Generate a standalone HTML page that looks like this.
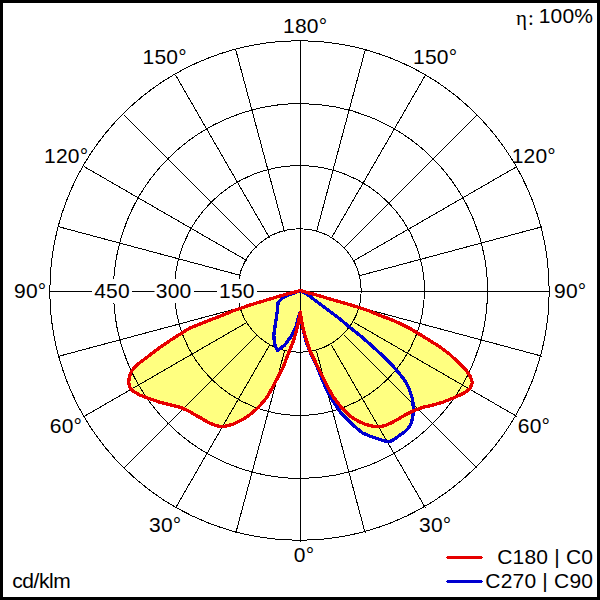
<!DOCTYPE html>
<html><head><meta charset="utf-8"><title>Polar LDC</title>
<style>
html,body{margin:0;padding:0;background:#fff;}
body{width:600px;height:600px;overflow:hidden;font-family:"Liberation Sans",sans-serif;}
svg{display:block;}
</style></head><body>
<svg width="600" height="600" viewBox="0 0 600 600">
<rect x="0" y="0" width="600" height="600" fill="#fff"/>
<g fill="#FFFF80" stroke="none">
<polygon points="300.2,290.6 316.7,295.0 333.3,300.0 350.0,304.7 366.7,310.0 383.3,316.7 390.0,319.2 400.0,323.5 410.0,328.5 420.0,334.5 430.0,340.7 440.0,347.0 450.0,354.5 460.0,364.0 466.7,370.8 470.5,377.0 472.3,382.5 470.0,388.7 463.3,393.5 454.0,397.7 443.3,402.0 433.3,405.0 423.3,407.2 413.3,410.8 405.0,415.0 400.0,418.0 392.0,422.6 385.0,425.6 379.0,426.8 375.0,426.6 366.7,424.8 358.3,421.3 350.0,416.0 341.7,407.8 333.3,397.0 326.7,385.0 320.0,371.7 314.5,360.0 310.0,351.2 306.3,340.0 302.5,326.3 300.3,312.0 297.5,326.3 293.8,340.0 288.8,352.5 285.7,360.5 283.3,366.7 278.3,376.5 273.0,386.5 267.0,397.3 258.5,407.3 251.7,413.3 243.3,419.2 233.3,424.2 223.3,426.7 216.7,425.8 208.3,422.5 200.0,417.5 196.7,415.8 188.3,410.8 180.0,407.2 170.0,404.7 160.0,402.3 150.0,398.8 140.0,395.2 132.0,390.3 129.6,387.0 128.7,382.5 129.3,376.7 131.8,370.8 136.7,365.0 142.5,360.7 150.0,354.9 160.0,347.4 170.0,340.5 180.0,334.2 190.0,328.0 200.0,324.0 210.0,320.0 216.7,317.5 233.3,310.8 250.0,305.0 266.7,300.0 283.3,295.0"/>
<polygon points="300.2,290.6 304.0,292.4 307.5,294.5 313.0,298.7 320.0,304.0 330.0,311.5 340.0,319.0 350.0,327.5 360.0,335.5 366.7,341.3 375.0,348.7 384.0,357.0 391.0,364.0 399.0,373.0 405.5,381.5 409.6,390.0 412.5,399.0 413.6,410.0 412.5,418.5 410.8,424.0 408.2,428.2 404.5,432.0 400.0,435.0 394.5,439.2 390.5,441.3 386.0,441.2 380.0,439.6 370.0,436.2 363.0,433.2 360.0,431.0 350.0,422.3 341.7,414.0 333.3,401.7 326.0,388.3 320.3,375.0 315.3,362.5 311.5,355.0 306.4,343.0 302.5,327.0 300.3,312.0 298.3,318.0 296.0,326.3 291.0,336.5 284.5,345.3 277.5,350.6 274.4,343.8 273.8,335.0 275.6,322.5 277.5,310.0 278.1,302.5 282.5,298.1 288.8,295.0"/>
</g>
<g fill="none" stroke="#000" stroke-width="1" shape-rendering="crispEdges">
<circle cx="299.5" cy="290.5" r="61.66"/>
<circle cx="299.5" cy="290.5" r="124.94"/>
<ellipse cx="300.5" cy="291" rx="187.1" ry="187.4"/>
<circle cx="299.5" cy="290.5" r="249.68"/>
<line x1="300.5" y1="40" x2="300.5" y2="542"/>
<line x1="49" y1="291.5" x2="550" y2="291.5"/>
<line x1="316.55" y1="351.39" x2="365.20" y2="532.98"/><line x1="331.50" y1="345.19" x2="425.50" y2="508.01"/><line x1="344.34" y1="335.34" x2="477.28" y2="468.28"/><line x1="354.19" y1="322.50" x2="517.01" y2="416.50"/><line x1="360.39" y1="307.55" x2="541.98" y2="356.20"/><line x1="360.39" y1="275.45" x2="541.98" y2="226.80"/><line x1="354.19" y1="260.50" x2="517.01" y2="166.50"/><line x1="344.34" y1="247.66" x2="477.28" y2="114.72"/><line x1="331.50" y1="237.81" x2="425.50" y2="74.99"/><line x1="316.55" y1="231.61" x2="365.20" y2="50.02"/><line x1="284.45" y1="231.61" x2="235.80" y2="50.02"/><line x1="269.50" y1="237.81" x2="175.50" y2="74.99"/><line x1="256.66" y1="247.66" x2="123.72" y2="114.72"/><line x1="246.81" y1="260.50" x2="83.99" y2="166.50"/><line x1="240.61" y1="275.45" x2="59.02" y2="226.80"/><line x1="240.61" y1="307.55" x2="59.02" y2="356.20"/><line x1="246.81" y1="322.50" x2="83.99" y2="416.50"/><line x1="256.66" y1="335.34" x2="123.72" y2="468.28"/><line x1="269.50" y1="345.19" x2="175.50" y2="508.01"/><line x1="284.45" y1="351.39" x2="235.80" y2="532.98"/>
</g>
<g fill="#fff">
<rect x="92" y="279" width="40" height="24"/>
<rect x="154.5" y="279" width="39.5" height="24"/>
<rect x="217" y="279" width="40" height="24"/>
</g>
<g fill="none" stroke-width="3.3" stroke-linejoin="round" stroke-linecap="round" shape-rendering="crispEdges">
<polygon points="300.2,290.6 304.0,292.4 307.5,294.5 313.0,298.7 320.0,304.0 330.0,311.5 340.0,319.0 350.0,327.5 360.0,335.5 366.7,341.3 375.0,348.7 384.0,357.0 391.0,364.0 399.0,373.0 405.5,381.5 409.6,390.0 412.5,399.0 413.6,410.0 412.5,418.5 410.8,424.0 408.2,428.2 404.5,432.0 400.0,435.0 394.5,439.2 390.5,441.3 386.0,441.2 380.0,439.6 370.0,436.2 363.0,433.2 360.0,431.0 350.0,422.3 341.7,414.0 333.3,401.7 326.0,388.3 320.3,375.0 315.3,362.5 311.5,355.0 306.4,343.0 302.5,327.0 300.3,312.0 298.3,318.0 296.0,326.3 291.0,336.5 284.5,345.3 277.5,350.6 274.4,343.8 273.8,335.0 275.6,322.5 277.5,310.0 278.1,302.5 282.5,298.1 288.8,295.0" stroke="#0000D0"/>
<polygon points="300.2,290.6 316.7,295.0 333.3,300.0 350.0,304.7 366.7,310.0 383.3,316.7 390.0,319.2 400.0,323.5 410.0,328.5 420.0,334.5 430.0,340.7 440.0,347.0 450.0,354.5 460.0,364.0 466.7,370.8 470.5,377.0 472.3,382.5 470.0,388.7 463.3,393.5 454.0,397.7 443.3,402.0 433.3,405.0 423.3,407.2 413.3,410.8 405.0,415.0 400.0,418.0 392.0,422.6 385.0,425.6 379.0,426.8 375.0,426.6 366.7,424.8 358.3,421.3 350.0,416.0 341.7,407.8 333.3,397.0 326.7,385.0 320.0,371.7 314.5,360.0 310.0,351.2 306.3,340.0 302.5,326.3 300.3,312.0 297.5,326.3 293.8,340.0 288.8,352.5 285.7,360.5 283.3,366.7 278.3,376.5 273.0,386.5 267.0,397.3 258.5,407.3 251.7,413.3 243.3,419.2 233.3,424.2 223.3,426.7 216.7,425.8 208.3,422.5 200.0,417.5 196.7,415.8 188.3,410.8 180.0,407.2 170.0,404.7 160.0,402.3 150.0,398.8 140.0,395.2 132.0,390.3 129.6,387.0 128.7,382.5 129.3,376.7 131.8,370.8 136.7,365.0 142.5,360.7 150.0,354.9 160.0,347.4 170.0,340.5 180.0,334.2 190.0,328.0 200.0,324.0 210.0,320.0 216.7,317.5 233.3,310.8 250.0,305.0 266.7,300.0 283.3,295.0" stroke="#E60000"/>
<path d="M447 556h35v1h1v1h-1v1h-35v-1h-1v-1h1z" fill="#E60000" stroke="none"/>
<path d="M447 580h35v1h1v1h-1v1h-35v-1h-1v-1h1z" fill="#0000D0" stroke="none"/>
</g>
<g fill="#000" font-family="Liberation Sans, sans-serif" font-size="21" letter-spacing="0.2">
<text x="283" y="33.2" text-anchor="start" >180°</text><text x="142.6" y="63.7" text-anchor="start" >150°</text><text x="413" y="63.7" text-anchor="start" >150°</text><text x="44" y="162.7" text-anchor="start" >120°</text><text x="511.7" y="162.7" text-anchor="start" >120°</text><text x="14" y="298" text-anchor="start" >90°</text><text x="554" y="298" text-anchor="start" >90°</text><text x="49.8" y="433" text-anchor="start" >60°</text><text x="517.8" y="433" text-anchor="start" >60°</text><text x="149" y="531.7" text-anchor="start" >30°</text><text x="419" y="531.7" text-anchor="start" >30°</text><text x="293.8" y="562" text-anchor="start" >0°</text><text x="94.2" y="298" text-anchor="start" >450</text><text x="155.8" y="298" text-anchor="start" >300</text><text x="219" y="298" text-anchor="start" >150</text><text x="12.2" y="587.7" text-anchor="start" letter-spacing="-0.4">cd/klm</text><text x="593.2" y="564" text-anchor="end" >C180 | C0</text><text x="593.2" y="588" text-anchor="end" >C270 | C90</text><text x="593.2" y="22.6" text-anchor="end" >100%</text><text x="516" y="25" text-anchor="start" font-family="Liberation Serif, serif" font-size="21">η<tspan dx="0.8">:</tspan></text>
</g>
<path d="M0 0H600V600H0Z M3 3V597H597V3Z" fill="#000" fill-rule="evenodd"/>
</svg>
</body></html>
